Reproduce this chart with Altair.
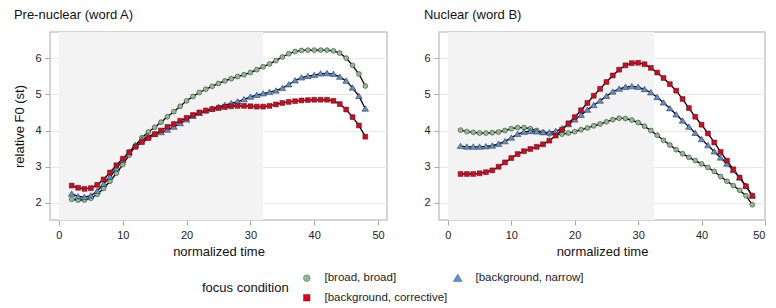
import altair as alt
import pandas as pd

time = list(range(2, 49))

pre_broad = [2.10, 2.08, 2.08, 2.13, 2.24, 2.40, 2.60, 2.82, 3.06, 3.32, 3.58, 3.80, 3.96, 4.09, 4.23,
             4.38, 4.52, 4.67, 4.82, 4.94, 5.05, 5.14, 5.22, 5.30, 5.37, 5.43, 5.49, 5.54, 5.60, 5.68,
             5.76, 5.84, 5.93, 6.03, 6.12, 6.18, 6.21, 6.22, 6.22, 6.22, 6.22, 6.20, 6.14, 6.00, 5.80,
             5.56, 5.23]
pre_narrow = [2.25, 2.18, 2.16, 2.20, 2.33, 2.52, 2.72, 2.95, 3.18, 3.40, 3.60, 3.75, 3.84, 3.90, 3.95,
              4.02, 4.10, 4.20, 4.30, 4.40, 4.48, 4.55, 4.60, 4.65, 4.70, 4.75, 4.80, 4.86, 4.93, 4.98,
              5.02, 5.06, 5.10, 5.17, 5.27, 5.38, 5.46, 5.50, 5.53, 5.57, 5.58, 5.56, 5.48, 5.37, 5.18,
              4.95, 4.60]
pre_corrective = [2.48, 2.42, 2.39, 2.41, 2.50, 2.65, 2.84, 3.04, 3.22, 3.40, 3.55, 3.68, 3.79, 3.90, 4.00,
                  4.10, 4.18, 4.27, 4.35, 4.43, 4.50, 4.55, 4.59, 4.62, 4.65, 4.67, 4.68, 4.68, 4.67, 4.66,
                  4.66, 4.68, 4.72, 4.76, 4.79, 4.81, 4.83, 4.84, 4.85, 4.85, 4.85, 4.82, 4.73, 4.58, 4.37,
                  4.14, 3.83]

nuc_broad = [4.01, 3.97, 3.95, 3.93, 3.93, 3.94, 3.96, 4.00, 4.05, 4.08, 4.08, 4.05, 4.00, 3.95, 3.91,
             3.89, 3.90, 3.93, 3.97, 4.02, 4.07, 4.13, 4.18, 4.24, 4.30, 4.34, 4.33, 4.29, 4.22, 4.12,
             4.00, 3.87, 3.73, 3.60, 3.47, 3.36, 3.26, 3.17, 3.08, 2.98, 2.87, 2.73, 2.60, 2.48, 2.35,
             2.20, 1.95]
nuc_narrow = [3.57, 3.55, 3.55, 3.55, 3.56, 3.58, 3.63, 3.70, 3.80, 3.90, 3.96, 3.98, 3.97, 3.95, 3.95,
              3.98, 4.06, 4.17, 4.30, 4.43, 4.57, 4.70, 4.82, 4.95, 5.07, 5.15, 5.20, 5.22, 5.20, 5.14,
              5.05, 4.92, 4.77, 4.61, 4.44, 4.27, 4.10, 3.93, 3.76, 3.59, 3.42, 3.25, 3.08, 2.90, 2.70,
              2.47, 2.20]
nuc_corrective = [2.80, 2.80, 2.80, 2.82, 2.85, 2.90, 3.00, 3.12, 3.24, 3.35, 3.43, 3.49, 3.55, 3.62, 3.72,
                  3.86, 4.02, 4.20, 4.37, 4.56, 4.76, 4.96, 5.15, 5.34, 5.52, 5.68, 5.80, 5.86, 5.87, 5.83,
                  5.73, 5.60, 5.45, 5.28, 5.10, 4.87, 4.62, 4.38, 4.16, 3.92, 3.67, 3.41, 3.17, 2.93, 2.70,
                  2.46, 2.20]

conditions = ["[broad, broad]", "[background, narrow]", "[background, corrective]"]
colors = ["#8FBC8F", "#5B8FDB", "#E3001B"]
shapes = ["circle",
          "M0,-1.2L1.35,1L-1.35,1Z",
          "M-1,-1L1,-1L1,1L-1,1Z"]
panel_titles = ["Pre-nuclear (word A)", "Nuclear (word B)"]
shade_end = [32, 32.5]
x_ticks = [0, 10, 20, 30, 40, 50]
y_ticks = [2, 3, 4, 5, 6]

panels_data = [
    [pre_broad, pre_narrow, pre_corrective],
    [nuc_broad, nuc_narrow, nuc_corrective],
]

H = 188
widths = [337, 326]
x_domains = [[-1.4, 51.4], [-1.4, 50.0]]
yscale = alt.Scale(domain=[1.53, 6.72], nice=False, zero=False)


def panel(i):
    rows = []
    for cond, vals in zip(conditions, panels_data[i]):
        for t, v in zip(time, vals):
            rows.append({"time": t, "f0": v, "condition": cond})
    df = pd.DataFrame(rows)
    xscale = alt.Scale(domain=x_domains[i], nice=False, zero=False)
    yaxis = alt.Axis(values=y_ticks, grid=True, title="relative F0 (st)") if i == 0 \
        else alt.Axis(values=y_ticks, grid=True, title=None)
    xenc = alt.X("time:Q", scale=xscale,
                 axis=alt.Axis(values=x_ticks, title="normalized time", grid=False,
                               labelFlush=True))
    yenc = alt.Y("f0:Q", scale=yscale, axis=yaxis)
    shade = alt.Chart(pd.DataFrame({"x0": [0], "x1": [shade_end[i]]})).mark_rect(
        color="#f3f3f3").encode(
        x=alt.X("x0:Q", scale=xscale), x2="x1:Q", y=alt.value(0), y2=alt.value(H))
    base = alt.Chart(df)
    line = base.mark_line(color="black", strokeWidth=1.3).encode(
        x=xenc, y=yenc, detail="condition:N")
    pts = base.mark_point(filled=True, stroke="#222", strokeWidth=0.5, opacity=1).encode(
        x=xenc, y=yenc,
        color=alt.Color("condition:N", scale=alt.Scale(domain=conditions, range=colors),
                        title="focus condition"),
        shape=alt.Shape("condition:N", scale=alt.Scale(domain=conditions, range=shapes),
                        title="focus condition"),
    )
    return alt.layer(shade, line, pts).properties(
        width=widths[i], height=H,
        title=alt.TitleParams(panel_titles[i], anchor="start", fontSize=13,
                              fontWeight="normal", color="#111", offset=10))


chart = alt.hconcat(panel(0), panel(1), spacing=35).properties(
    padding={"left": 5, "top": 0, "right": 1, "bottom": 0}
).configure(font="Liberation Sans").configure_view(
    stroke="#c8c8c8", strokeWidth=1.5
).configure_point(size=24).configure_axis(
    domain=False, tickColor="#aaaaaa", tickSize=5, labelFontSize=11, labelColor="#222",
    titleFontSize=13, titleFontWeight="normal", titleColor="#111", gridColor="#e8e8e8",
    labelPadding=4
).configure_axisX(titlePadding=5).configure_axisY(titlePadding=8).configure_legend(
    orient="none", legendX=152, legendY=240, direction="horizontal", columns=2,
    titleOrient="left", titleFontSize=13, titleFontWeight="normal", titleColor="#111",
    labelFontSize=11.5, labelColor="#222", columnPadding=4, rowPadding=7,
    titlePadding=12, symbolStrokeWidth=0.3, padding=0, labelOffset=12, symbolSize=45
)

chart.save("out.html", embed_options={"renderer": "svg", "actions": False})
